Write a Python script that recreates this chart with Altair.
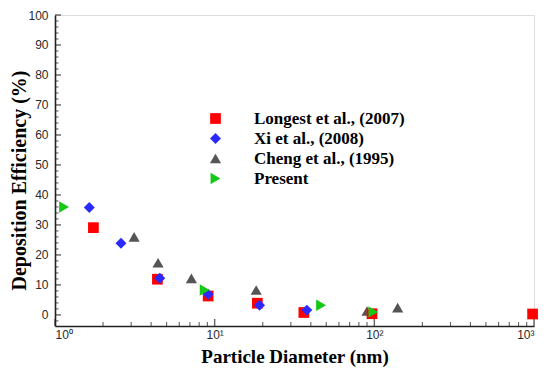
import altair as alt
import pandas as pd

# ---- data ----
cheng_x = [3.13, 4.42, 7.15, 18.2, 90.0, 140.0]
cheng_y = [26.0, 17.4, 12.2, 8.3, 1.3, 2.4]

longest_x = [1.74, 4.38, 9.1, 18.5, 36.2, 96.7, 980.0]
longest_y = [29.1, 11.9, 6.3, 3.9, 0.8, 0.4, 0.3]

xi_x = [1.64, 2.59, 4.53, 9.1, 19.1, 37.8]
xi_y = [35.8, 23.9, 12.2, 6.9, 3.2, 1.6]

present_x = [1.14, 8.66, 46.4, 98.6]
present_y = [36.0, 8.3, 3.2, 1.0]

series_names = ["Longest et al., (2007)", "Xi et al., (2008)", "Cheng et al., (1995)", "Present"]
series_colors = ["#ff0000", "#2a2aff", "#555555", "#18c818"]
series_shapes = ["square", "diamond", "triangle-up", "triangle-right"]
series_sizes = [115, 130, 85, 165]

x_major = [1, 10, 100, 1000]
x_minor = [m * d for d in [1, 10, 100] for m in range(2, 10)]
y_major = list(range(0, 101, 10))
y_minor = [v for v in range(-2, 101, 2) if v % 10 != 0]

rows = []
for name, xs, ys in [
    (series_names[2], cheng_x, cheng_y),
    (series_names[0], longest_x, longest_y),
    (series_names[1], xi_x, xi_y),
    (series_names[3], present_x, present_y),
]:
    for a, b in zip(xs, ys):
        rows.append({"series": name, "d": a, "eff": b})
df = pd.DataFrame(rows)

W, H = 479, 311
xscale = alt.Scale(type="log", domain=[1, 1000], nice=False)
yscale = alt.Scale(domain=[-3.7, 100], nice=False, zero=False)

label_font = "Liberation Sans"
title_font = "Liberation Serif"

x_axis = alt.Axis(
    values=x_major,
    labelExpr="datum.value == 1 ? '10⁰' : datum.value == 10 ? '10¹' : datum.value == 100 ? '10²' : '10³'",
    ticks=False, tickSize=0, grid=False, labelOverlap=False,
    domainColor="#222222", domainWidth=1.6,
    labelFont=label_font, labelFontSize=12, labelColor="#2a2a2a", labelPadding=3,
    title="Particle Diameter (nm)", titleFont=title_font, titleFontSize=19,
    titleFontWeight="bold", titleColor="#000000", titleBaseline="alphabetic", titleY=36,
)
y_axis = alt.Axis(
    values=y_major, ticks=False, tickSize=0, grid=False, labelOverlap=False,
    domainColor="#222222", domainWidth=1.6,
    labelFont=label_font, labelFontSize=12, labelColor="#2a2a2a", labelPadding=7,
    title="Deposition Efficiency (%)", titleFont=title_font, titleFontSize=20,
    titleFontWeight="bold", titleColor="#000000", titleAngle=270,
    titleBaseline="alphabetic", titleX=-30, titleY=165, titleAlign="center",
)

points = alt.Chart(df).mark_point(filled=True, opacity=1, strokeWidth=0).encode(
    x=alt.X("d:Q", scale=xscale, axis=x_axis),
    y=alt.Y("eff:Q", scale=yscale, axis=y_axis),
    color=alt.Color("series:N", scale=alt.Scale(domain=series_names, range=series_colors),
                    legend=alt.Legend(title=None, orient="none", legendX=152, legendY=95,
                                      labelFont=title_font, labelFontSize=17, labelFontWeight="bold",
                                      labelColor="#000000", symbolSize=105, labelOffset=30,
                                      rowPadding=2, padding=0, symbolStrokeWidth=0)),
    shape=alt.Shape("series:N", scale=alt.Scale(domain=series_names, range=series_shapes)),
    size=alt.Size("series:N", scale=alt.Scale(domain=series_names, range=series_sizes), legend=None),
)

ymaj = alt.Chart(pd.DataFrame({"yt": y_major})).mark_tick(
    color="#222222", thickness=1.4, size=6, orient="horizontal").encode(
    y=alt.Y("yt:Q", scale=yscale, axis=y_axis), x=alt.value(3))
ymin = alt.Chart(pd.DataFrame({"yt": y_minor})).mark_tick(
    color="#222222", thickness=1.1, size=3.5, orient="horizontal").encode(
    y=alt.Y("yt:Q", scale=yscale, axis=y_axis), x=alt.value(1.75))
xmaj = alt.Chart(pd.DataFrame({"xt": x_major})).mark_tick(
    color="#222222", thickness=1.4, size=7, orient="vertical").encode(
    x=alt.X("xt:Q", scale=xscale, axis=x_axis), y=alt.value(H - 3.5))
xmin = alt.Chart(pd.DataFrame({"xt": x_minor})).mark_tick(
    color="#222222", thickness=1.1, size=4, orient="vertical").encode(
    x=alt.X("xt:Q", scale=xscale, axis=x_axis), y=alt.value(H - 2))

chart = alt.layer(ymaj, ymin, xmaj, xmin, points).properties(
    width=W, height=H,
    autosize=alt.AutoSizeParams(type="none"),
    padding={"left": 47, "top": 7, "right": 8, "bottom": 42},
).configure_view(stroke=None).configure(background="white")

chart.save("out.html", embed_options={"renderer": "svg", "actions": False})
